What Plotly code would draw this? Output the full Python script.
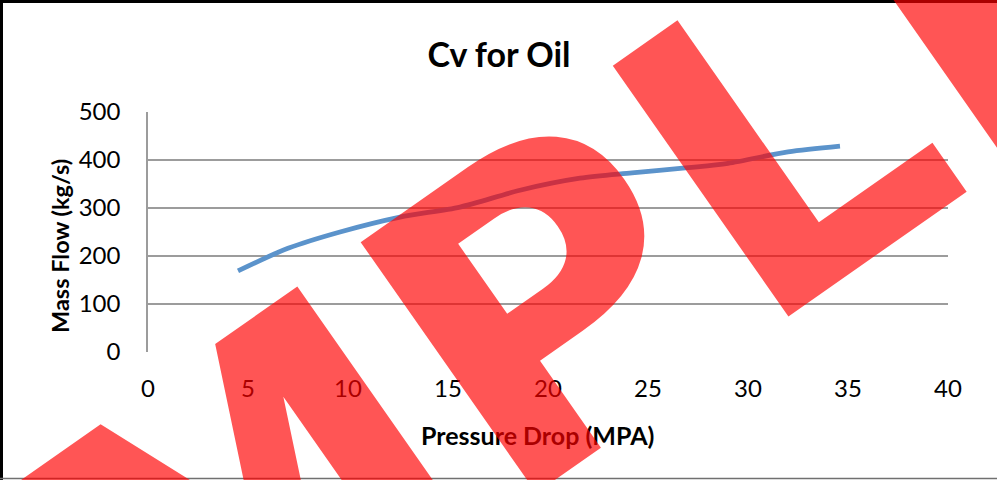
import plotly.graph_objects as go

# Data
pressure_drop = [4.5, 7, 9.6, 12.6, 15.6, 18.6, 21.6, 24.2, 27, 29, 32, 34.6]
mass_flow = [169, 216, 250, 281, 302, 337, 362, 373, 384, 393, 417, 429]
x_ticks = [0, 5, 10, 15, 20, 25, 30, 35, 40]
y_ticks = [0, 100, 200, 300, 400, 500]

W, H = 997, 480
L, R, T, B = 148, 49, 112, 128
pw, ph = W - L - R, H - T - B

def px2x(px):
    return (px - L) / pw

def py2y(py):
    return (H - B - py) / ph

fig = go.Figure()
fig.add_trace(go.Scatter(
    x=pressure_drop, y=mass_flow, mode="lines",
    line=dict(color="#5B93CB", width=4.8, shape="spline", smoothing=0.8),
    showlegend=False, hoverinfo="skip"))

font_family = "Lato, Carlito, Calibri, sans-serif"

fig.update_layout(
    width=W, height=H,
    margin=dict(l=L, r=R, t=T, b=B, autoexpand=False),
    paper_bgcolor="white", plot_bgcolor="white",
    font=dict(family=font_family, color="black"),
    title=dict(text="<b>Cv for Oil</b>", x=499 / W, xanchor="center",
               y=1 - 55 / H, yanchor="middle", font=dict(size=34, color="black")),
    xaxis=dict(range=[0, 40], tickvals=x_ticks, ticktext=[str(v) for v in x_ticks],
               showgrid=False, zeroline=False, showline=False, ticks="",
               tickfont=dict(size=24), ticklabelstandoff=20, automargin=False),
    yaxis=dict(range=[0, 500], tickvals=y_ticks, ticktext=[str(v) for v in y_ticks],
               showgrid=True, gridcolor="#9C9C9C", gridwidth=1.5,
               zeroline=False, showline=True, linecolor="#9C9C9C", linewidth=1.5,
               ticks="", tickfont=dict(size=24), ticklabelstandoff=21, automargin=False),
)

# Axis titles
fig.add_annotation(text="<b>Pressure Drop (MPA)</b>", xref="paper", yref="paper",
                   x=px2x(537), y=py2y(435), xanchor="center", yanchor="middle",
                   showarrow=False, font=dict(size=25, color="black"))
fig.add_annotation(text="<b>Mass Flow (kg/s)</b>", xref="paper", yref="paper",
                   x=px2x(60), y=py2y(246), xanchor="center", yanchor="middle",
                   showarrow=False, textangle=-90, font=dict(size=23.5, color="black"))

# Outer frame of the chart image
fig.add_shape(type="line", xref="paper", yref="paper",
              x0=px2x(1.5), x1=px2x(1.5), y0=py2y(0), y1=py2y(480),
              line=dict(color="black", width=3))
fig.add_shape(type="line", xref="paper", yref="paper",
              x0=px2x(0), x1=px2x(997), y0=py2y(1.5), y1=py2y(1.5),
              line=dict(color="black", width=3))
fig.add_shape(type="line", xref="paper", yref="paper",
              x0=px2x(0), x1=px2x(997), y0=py2y(478.5), y1=py2y(478.5),
              line=dict(color="#707070", width=1.5))

# Watermark
fig.add_annotation(text="SAMPLE", xref="paper", yref="paper",
                   x=px2x(346), y=py2y(448), xanchor="center", yanchor="middle",
                   showarrow=False, textangle=-35,
                   font=dict(family="DejaVu Sans", size=420, weight="bold",
                             color="rgba(255,0,0,0.667)"))

fig.write_html("out.html", config={"displayModeBar": False},
               post_script="document.body.style.margin='0';")
